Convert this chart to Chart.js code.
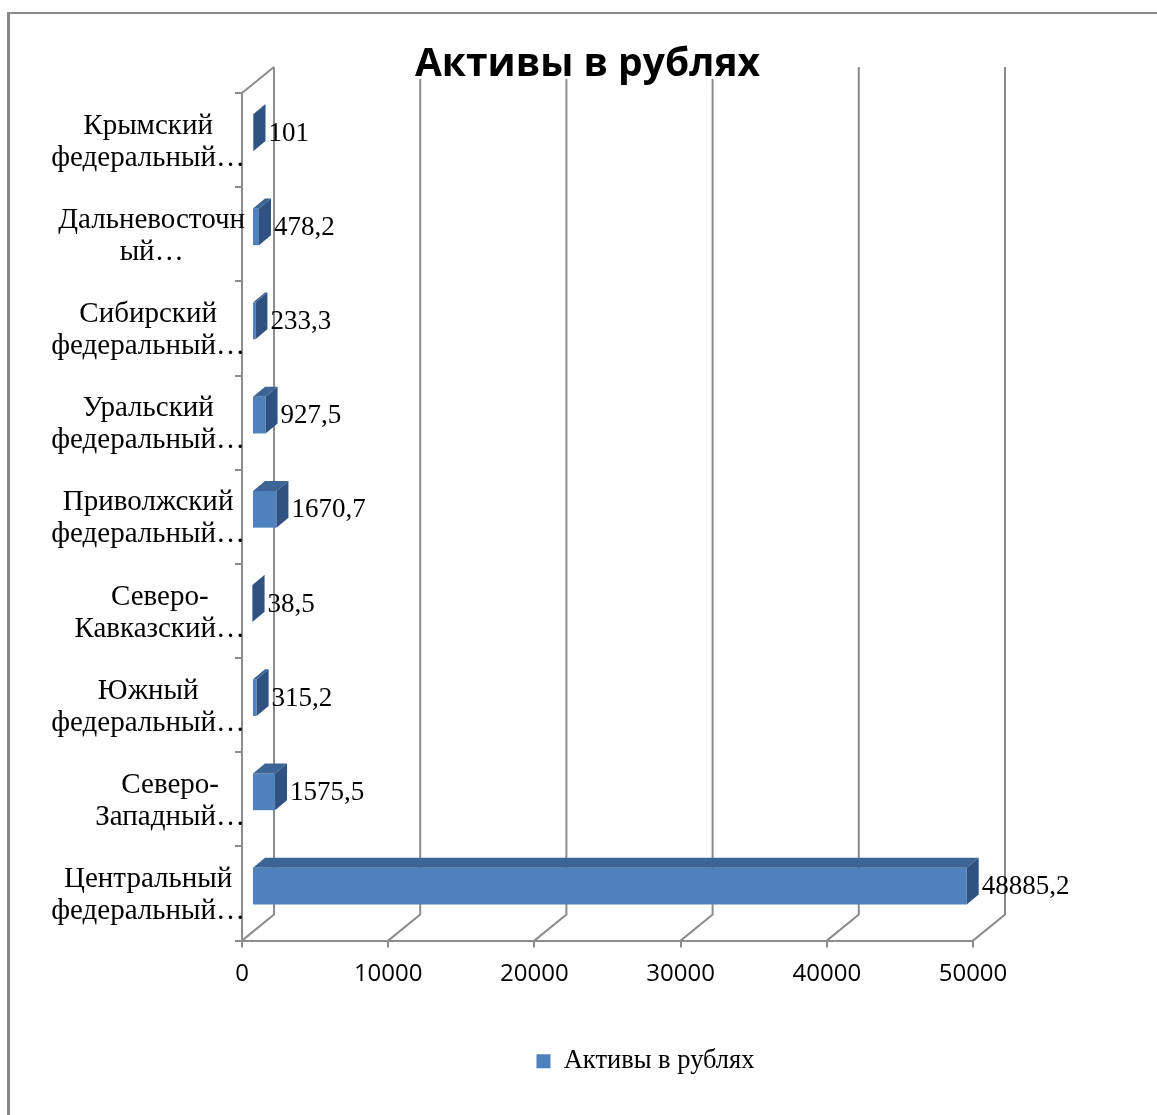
<!DOCTYPE html>
<html>
<head>
<meta charset="utf-8">
<script src="https://cdn.jsdelivr.net/npm/chart.js@4"></script>
<style>
  html, body { margin: 0; padding: 0; background: #ffffff; }
</style>
</head>
<body>
<canvas id="assetsChart" width="1157" height="1115"></canvas>
<script>
// ── Data ─────────────────────────────────────────────────────────────
var districts = [
  ['Крымский', 'федеральный…'],
  ['Дальневосточн', 'ый…'],
  ['Сибирский', 'федеральный…'],
  ['Уральский', 'федеральный…'],
  ['Приволжский', 'федеральный…'],
  ['Северо-', 'Кавказский…'],
  ['Южный', 'федеральный…'],
  ['Северо-', 'Западный…'],
  ['Центральный', 'федеральный…']
];
var assets = [101, 478.2, 233.3, 927.5, 1670.7, 38.5, 315.2, 1575.5, 48885.2];
var xTicks = [0, 10000, 20000, 30000, 40000, 50000];
var seriesName = 'Активы в рублях';

// ── Look ─────────────────────────────────────────────────────────────
var GRID = '#8c8c8c';
var FRONT = '#4f81bd', TOP = '#3c6595', SIDE = '#2f5282';
var WALL_DX = 32, WALL_DY = 26;      // depth of the back wall
var SHIFT_X = 10, SHIFT_Y = 7.5;     // bars sit a little behind the front plane
var BAR_DX = 12, BAR_DY = 10;        // bar thickness in depth
var TITLE_SHIFT = 92, LEGEND_SHIFT = 150;
var SERIF = '"Liberation Serif", "Times New Roman", serif';

function fmt(v) { return String(v).replace('.', ','); }

var box3d = {
  id: 'box3d',
  afterLayout: function (chart) {
    chart.titleBlock.left += TITLE_SHIFT;
    chart.titleBlock.right += TITLE_SHIFT;
    chart.legend.left += LEGEND_SHIFT;
    chart.legend.right += LEGEND_SHIFT;
  },
  beforeDraw: function (chart) {
    var ctx = chart.ctx, a = chart.chartArea, xs = chart.scales.x;
    ctx.save();
    // outer frame
    ctx.fillStyle = '#8a8a8a';
    ctx.fillRect(7, 12, 3, chart.height - 12);
    ctx.fillRect(7, 12, chart.width - 7, 2);

    // back wall and floor
    ctx.strokeStyle = GRID;
    ctx.lineWidth = 2;
    ctx.beginPath();
    ctx.moveTo(a.left, a.top);
    ctx.lineTo(a.left + WALL_DX, a.top - WALL_DY);
    xTicks.forEach(function (v) {
      var px = xs.getPixelForValue(v);
      ctx.moveTo(px, a.bottom);
      ctx.lineTo(px + WALL_DX, a.bottom - WALL_DY);
      ctx.lineTo(px + WALL_DX, a.top - WALL_DY);
    });
    ctx.stroke();

    // title sits on a white plate
    var t = chart.titleBlock, tf = chart.options.plugins.title.font;
    ctx.font = tf.weight + ' ' + tf.size + 'px ' + tf.family;
    var tw = ctx.measureText(seriesName).width;
    var cx = (t.left + t.right) / 2;
    ctx.fillStyle = '#ffffff';
    ctx.fillRect(cx - tw / 2 - 6, 30, tw + 12, a.top - 14 - 30);
    ctx.restore();
  },
  beforeDatasetsDraw: function (chart) {
    chart.ctx.save();
    chart.ctx.translate(SHIFT_X, -SHIFT_Y);
  },
  afterDatasetsDraw: function (chart) {
    var ctx = chart.ctx;
    var meta = chart.getDatasetMeta(0);
    meta.data.forEach(function (bar, i) {
      var p = bar.getProps(['x', 'y', 'base', 'height'], true);
      var top = p.y - p.height / 2, bottom = p.y + p.height / 2;
      ctx.fillStyle = TOP;
      ctx.beginPath();
      ctx.moveTo(p.base, top);
      ctx.lineTo(p.x, top);
      ctx.lineTo(p.x + BAR_DX, top - BAR_DY);
      ctx.lineTo(p.base + BAR_DX, top - BAR_DY);
      ctx.closePath();
      ctx.fill();
      ctx.fillStyle = SIDE;
      ctx.beginPath();
      ctx.moveTo(p.x, top);
      ctx.lineTo(p.x + BAR_DX, top - BAR_DY);
      ctx.lineTo(p.x + BAR_DX, bottom - BAR_DY);
      ctx.lineTo(p.x, bottom);
      ctx.closePath();
      ctx.fill();

      // value label
      ctx.fillStyle = '#000000';
      ctx.font = '27px ' + SERIF;
      ctx.textAlign = 'left';
      ctx.textBaseline = 'middle';
      ctx.fillText(fmt(assets[i]), p.x + BAR_DX + 3, p.y + 1);
    });
    ctx.restore();
  },
  afterDraw: function (chart) {
    // category names, each block centred line by line against the axis
    var ctx = chart.ctx, a = chart.chartArea, ys = chart.scales.y;
    ctx.save();
    ctx.font = '29px ' + SERIF;
    ctx.fillStyle = '#000000';
    ctx.textAlign = 'center';
    ctx.textBaseline = 'middle';
    districts.forEach(function (lines, i) {
      var cy = ys.getPixelForTick(i);
      var w = Math.max.apply(null, lines.map(function (s) { return ctx.measureText(s).width; }));
      var cx = a.left + 3 - w / 2;
      lines.forEach(function (s, k) {
        ctx.fillText(s, cx, cy + (k - (lines.length - 1) / 2) * 32 + 2);
      });
    });
    ctx.restore();
  }
};

new Chart(document.getElementById('assetsChart'), {
  type: 'bar',
  data: {
    labels: districts,
    datasets: [{
      label: seriesName,
      data: assets,
      backgroundColor: FRONT,
      borderWidth: 0,
      categoryPercentage: 1,
      barPercentage: 0.39,
      clip: false
    }]
  },
  options: {
    indexAxis: 'y',
    responsive: false,
    animation: false,
    devicePixelRatio: 1,
    layout: { padding: { left: 18, right: 184, top: 0, bottom: 30.5 } },
    plugins: {
      title: {
        display: true,
        text: seriesName,
        color: '#000000',
        font: { family: '"Open Sans", sans-serif', size: 39, weight: 'bold', lineHeight: 1.2 },
        padding: { top: 41, bottom: 5.2 }
      },
      legend: {
        position: 'bottom',
        labels: {
          color: '#000000',
          font: { family: SERIF, size: 26.5, lineHeight: 1.1 },
          boxWidth: 14,
          boxHeight: 14,
          padding: 10
        }
      },
      tooltip: { enabled: false }
    },
    scales: {
      x: {
        min: 0,
        max: 50000,
        afterBuildTicks: function (s) { s.ticks = xTicks.map(function (v) { return { value: v }; }); },
        afterFit: function (s) { s.height = 97.4; },
        border: { color: GRID, width: 2 },
        grid: { drawOnChartArea: false, color: GRID, lineWidth: 2, tickLength: 7 },
        ticks: {
          color: '#000000',
          padding: 12,
          maxRotation: 0,
          font: { family: '"Open Sans", sans-serif', size: 24 },
          callback: function (v) { return String(v); }
        }
      },
      y: {
        afterFit: function (s) { s.width = 224; },
        border: { color: GRID, width: 2 },
        grid: { drawOnChartArea: false, color: GRID, lineWidth: 2, tickLength: 7 },
        ticks: { display: false }
      }
    }
  },
  plugins: [box3d]
});
</script>
</body>
</html>
